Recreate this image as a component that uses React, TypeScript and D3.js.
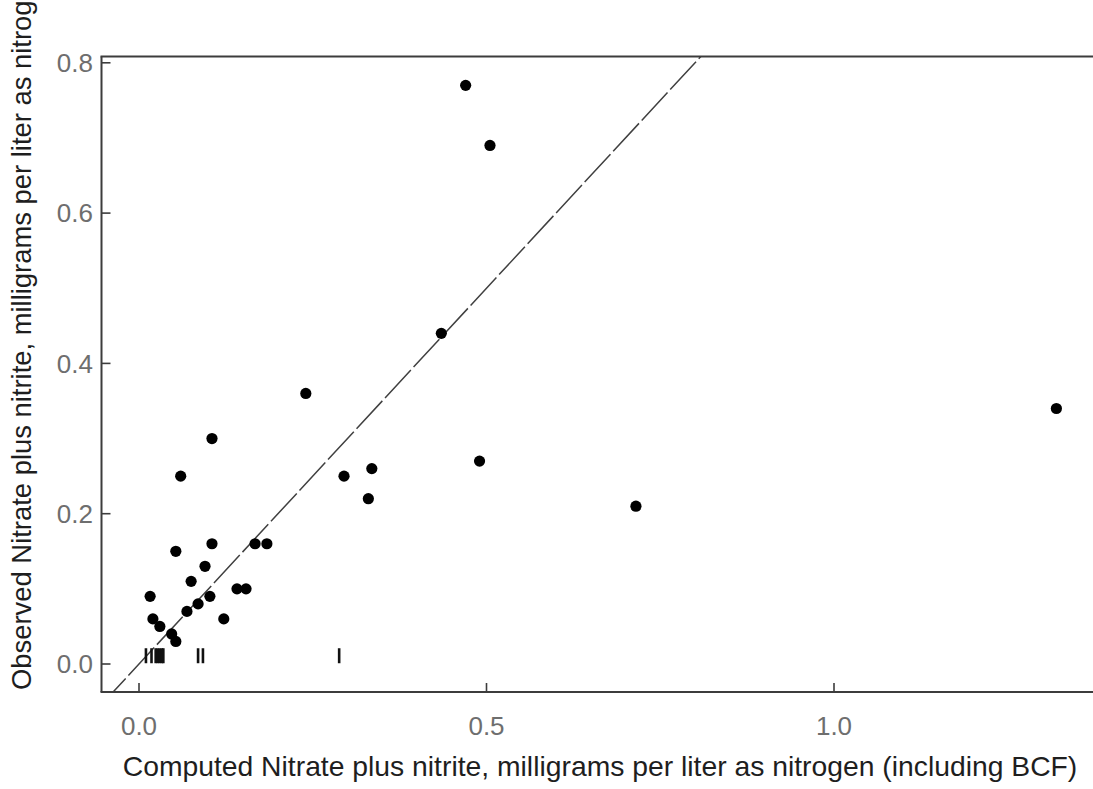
import React from "react";
import * as d3 from "d3";

const computed: number[] = [0.47, 0.505, 0.435, 0.24, 1.32, 0.105, 0.06, 0.295, 0.335, 0.49, 0.33, 0.715, 0.105, 0.167, 0.184, 0.053, 0.095, 0.075, 0.016, 0.102, 0.141, 0.154, 0.085, 0.069, 0.122, 0.02, 0.03, 0.047, 0.053];
const observed: number[] = [0.77, 0.69, 0.44, 0.36, 0.34, 0.30, 0.25, 0.25, 0.26, 0.27, 0.22, 0.21, 0.16, 0.16, 0.16, 0.15, 0.13, 0.11, 0.09, 0.09, 0.10, 0.10, 0.08, 0.07, 0.06, 0.06, 0.05, 0.04, 0.03];
// censored (less-than) observations, drawn as vertical bars
const censoredComputed: number[] = [0.010, 0.018, 0.024, 0.027, 0.030, 0.033, 0.035, 0.085, 0.092, 0.288];
const censoredObserved: number[] = [0.011, 0.011, 0.011, 0.011, 0.011, 0.011, 0.011, 0.011, 0.011, 0.011];

const xTicks: number[] = [0, 0.5, 1.0];
const yTicks: number[] = [0, 0.2, 0.4, 0.6, 0.8];
const xTitle = "Computed Nitrate plus nitrite, milligrams per liter as nitrogen (including BCF)";
const yTitle = "Observed Nitrate plus nitrite, milligrams per liter as nitrogen";

export default function App() {
  const W = 1093, H = 789;
  const left = 101.5, right = 1100, top = 56.5, bottom = 692;
  const x = d3.scaleLinear().domain([0, 1]).range([139, 834]);
  const y = d3.scaleLinear().domain([0, 0.8]).range([664, 62.8]);
  const font = "'Liberation Sans', Arial, sans-serif";
  const axisCol = "#3c3c3c";
  const line = d3.line<[number, number]>().x(d => x(d[0])).y(d => y(d[1]));
  const oneToOne: [number, number][] = [[-1, -1], [2, 2]];

  return (
    <svg width={W} height={H} style={{ position: "absolute", left: 0, top: 0, background: "#fff" }}>
      <defs>
        <clipPath id="plot">
          <rect x={left} y={top} width={right - left} height={bottom - top} />
        </clipPath>
      </defs>
      <rect x={0} y={0} width={W} height={H} fill="#fff" />
      <g clipPath="url(#plot)">
        <path d={line(oneToOne) || ""} fill="none" stroke="#404040" strokeWidth={1.5} strokeDasharray="38,4" />
      </g>
      {/* axes frame */}
      <line x1={left} x2={left} y1={top} y2={bottom} stroke={axisCol} strokeWidth={2} />
      <line x1={left - 1} x2={right} y1={bottom} y2={bottom} stroke={axisCol} strokeWidth={2} />
      <line x1={left - 1} x2={right} y1={top} y2={top} stroke={axisCol} strokeWidth={2} />
      {yTicks.map(t => (
        <g key={"y" + t}>
          <line x1={left} x2={left + 9} y1={y(t)} y2={y(t)} stroke={axisCol} strokeWidth={1.6} />
          <text x={93} y={y(t)} dy="0.36em" textAnchor="end" fontFamily={font} fontSize={26} fill="#6e6e6e">{d3.format(".1f")(t)}</text>
        </g>
      ))}
      {xTicks.map(t => (
        <g key={"x" + t}>
          <line x1={x(t)} x2={x(t)} y1={bottom} y2={bottom - 9} stroke={axisCol} strokeWidth={1.6} />
          <text x={x(t)} y={735} textAnchor="middle" fontFamily={font} fontSize={26} fill="#6e6e6e">{d3.format(".1f")(t)}</text>
        </g>
      ))}
      {computed.map((c, i) => (
        <circle key={"p" + i} cx={x(c)} cy={y(observed[i])} r={5.6} fill="#000" />
      ))}
      {censoredComputed.map((c, i) => (
        <line key={"c" + i} x1={x(c)} x2={x(c)} y1={y(censoredObserved[i]) - 7.5} y2={y(censoredObserved[i]) + 7.5} stroke="#111" strokeWidth={2.6} />
      ))}
      <text x={600} y={776} textAnchor="middle" fontFamily={font} fontSize={28.3} fill="#1e1e1e">{xTitle}</text>
      <text transform="translate(31,690) rotate(-90)" textAnchor="start" fontFamily={font} fontSize={27.4} fill="#1e1e1e">{yTitle}</text>
    </svg>
  );
}
